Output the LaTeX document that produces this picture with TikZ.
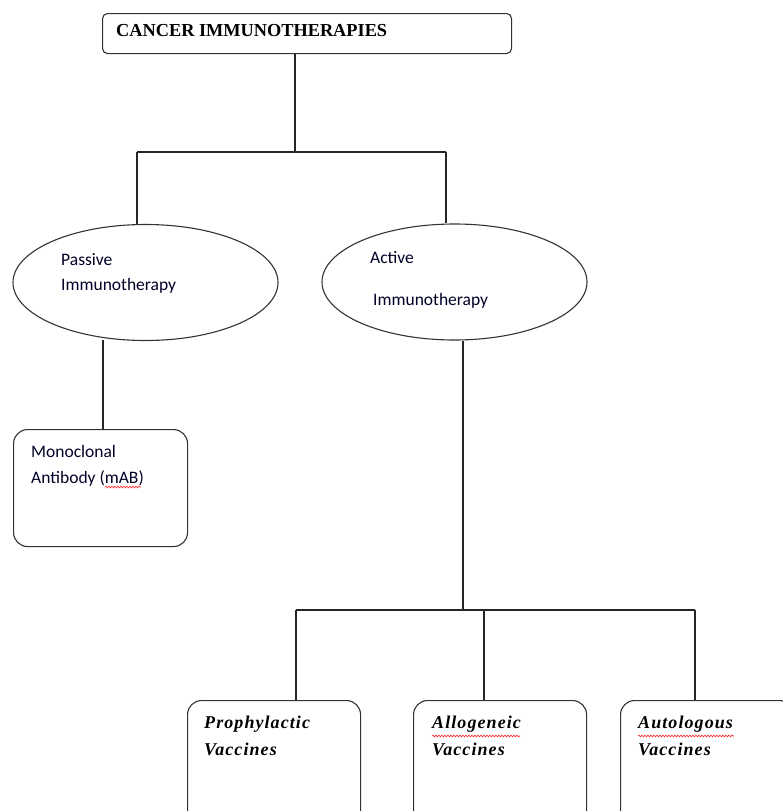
\documentclass[tikz,border=0pt]{standalone}
\usepackage{fontspec}
\setmainfont{Liberation Serif}
\newfontfamily\calib{Carlito}
\newfontfamily\vaccfont[LetterSpace=6,BoldItalicFont={* Bold Italic}]{Liberation Serif}
\usetikzlibrary{shapes.geometric,decorations.pathmorphing}
\begin{document}
\begin{tikzpicture}[x=1pt,y=-1pt,
  shape line/.style={draw=black!80,line width=1.1pt},
  conn/.style={draw=black!85,line width=1.1pt},
  oval/.style={shape line,ellipse,inner sep=0pt},
  roundbox/.style={shape line,rectangle,rounded corners=14pt,inner sep=0pt,anchor=north west},
  sanslabel/.style={font=\calib\fontsize{17.5}{20}\selectfont,anchor=base west,inner sep=0pt,text=black!85!blue},
  vacclabel/.style={font=\vaccfont\bfseries\itshape\fontsize{18}{20}\selectfont,anchor=base west,inner sep=0pt},
  squiggle/.style={draw=red!85,line width=0.6pt,decorate,decoration={snake,amplitude=0.9pt,segment length=3pt}}
]
\useasboundingbox (0,0) rectangle (783,811);
\clip (0,0) rectangle (783,811);
\fill[white] (0,0) rectangle (783,811);

% title
\node[shape line,rectangle,rounded corners=5pt,minimum width=409pt,minimum height=40pt,inner sep=0pt,anchor=north west] (title) at (102,13) {};
\node[font=\bfseries\fontsize{18.3}{20}\selectfont,anchor=base west,inner sep=0pt] (titletext) at (116,36.5) {CANCER IMMUNOTHERAPIES};

% ellipses
\node[oval,minimum width=265pt,minimum height=116pt] (passive) at (145.5,282.5) {};
\node[oval,minimum width=265pt,minimum height=116pt] (active) at (454.5,282) {};
\node[sanslabel] (ptext1) at (61,265) {Passive};
\node[sanslabel] (ptext2) at (61,290) {Immunotherapy};
\node[sanslabel] (atext1) at (370,263) {Active};
\node[sanslabel] (atext2) at (373,305) {Immunotherapy};

% monoclonal
\node[roundbox,minimum width=174pt,minimum height=117pt] (mab) at (13,429) {};
\node[sanslabel] (mtext1) at (31,457.5) {Monoclonal};
\node[sanslabel] (mtext2) at (31,483) {Antibody (mAB)};
\draw[squiggle] (105,487) -- (141,487);

% vaccines
\node[roundbox,minimum width=173pt,minimum height=130pt] (proph) at (187,700) {};
\node[roundbox,minimum width=173pt,minimum height=130pt] (allo) at (413,700) {};
\node[roundbox,minimum width=173pt,minimum height=130pt] (auto) at (620,700) {};
\node[vacclabel] (v1a) at (204,728) {Prophylactic};
\node[vacclabel] (v1b) at (204,755) {Vaccines};
\node[vacclabel] (v2a) at (432,728) {Allogeneic};
\node[vacclabel] (v2b) at (432,755) {Vaccines};
\node[vacclabel] (v3a) at (638,728) {Autologous};
\node[vacclabel] (v3b) at (638,755) {Vaccines};
\draw[squiggle] (432,736) -- (520,736);
\draw[squiggle] (638,736) -- (734,736);

% junctions
\coordinate (j0) at (295,152);
\coordinate (jl) at (137,152);
\coordinate (jr) at (446,152);
\coordinate (j1) at (463,610);
\coordinate (k1) at (296,610);
\coordinate (k2) at (484,610);
\coordinate (k3) at (695,610);
\coordinate (pb) at (103,340);

% connectors
\draw[conn] (title.south -| j0) -- (j0);
\draw[conn] (jl) -- (jr);
\draw[conn] (jl) -- (jl |- passive.north);
\draw[conn] (jr) -- (jr |- active.north);
\draw[conn] (pb) -- (pb |- mab.north);
\draw[conn] (j1 |- active.south) -- (j1);
\draw[conn] (k1) -- (k3);
\draw[conn] (k1) -- (k1 |- proph.north);
\draw[conn] (k2) -- (k2 |- allo.north);
\draw[conn] (k3) -- (k3 |- auto.north);
\end{tikzpicture}
\end{document}
